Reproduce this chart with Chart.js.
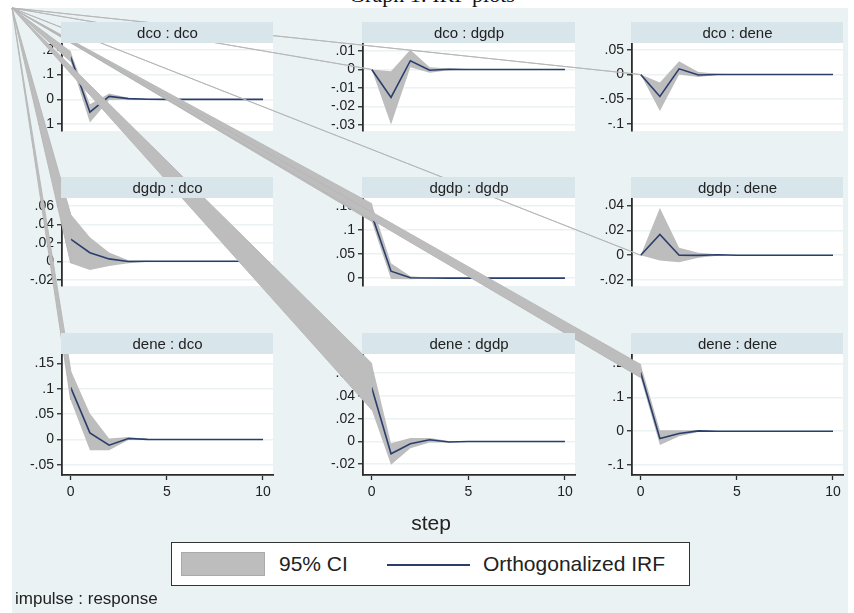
<!DOCTYPE html>
<html>
<head>
<meta charset="utf-8">
<title>Graph 1: IRF plots</title>
<script src="https://cdn.jsdelivr.net/npm/chart.js@4.4.1/dist/chart.umd.min.js"></script>
<style>
  body { margin: 0; background: #fff; }
  #page { position: relative; width: 854px; height: 613px; overflow: hidden;
          font-family: "Liberation Sans", Arial, sans-serif; color: #222; }
  #region { position: absolute; left: 12px; top: 8px; width: 836px; height: 605px; background: #eaf2f3; }
  #page canvas { position: absolute; left: 0; top: 0; }
  #title { position: absolute; left: 0; width: 864px; top: -16px; text-align: center;
           font: 22px/22px "Liberation Serif", "Times New Roman", serif; color: #111; }
  #xtitle { position: absolute; left: 331px; width: 200px; top: 512px; text-align: center;
            font-size: 21px; line-height: 21px; }
  #legend { position: absolute; left: 171px; top: 542px; width: 517px; height: 42px;
            background: #fff; border: 1.5px solid #333; }
  #legend .swatch { position: absolute; left: 9px; top: 9px; width: 82px; height: 22px;
                    background: #bdbdbd; border: 1px solid #aaa; }
  #legend .line { position: absolute; left: 215px; top: 21px; width: 83px; height: 2px; background: #2a3e6e; }
  #legend .lab { position: absolute; top: 10px; font-size: 21px; line-height: 22px; }
  #note { position: absolute; left: 15px; top: 590px; font-size: 17px; line-height: 18px; }
</style>
</head>
<body>
<div id="page">
  <div id="region"></div>
  <div id="title">Graph 1: IRF plots</div>
  <div id="xtitle">step</div>
  <div id="legend">
    <span class="swatch"></span><span class="lab" style="left:107px">95% CI</span>
    <span class="line"></span><span class="lab" style="left:311px">Orthogonalized IRF</span>
  </div>
  <div id="note">impulse : response</div>
</div>
<script>
// horizon steps
const steps = [0, 1, 2, 3, 4, 5, 6, 7, 8, 9, 10];
const xTicks = [0, 5, 10];
const variables = ['dco', 'dgdp', 'dene'];

// impulse dco
const irfDcoDco   = [0.172, -0.052, 0.012, 0.003, 0.0005, 0, 0, 0, 0, 0, 0];
const loDcoDco    = [0.152, -0.094, -0.003, -0.002, -0.001, 0, 0, 0, 0, 0, 0];
const hiDcoDco    = [0.193, -0.020, 0.024, 0.007, 0.002, 0.0005, 0, 0, 0, 0, 0];
const irfDcoDgdp  = [0, -0.0151, 0.0047, -0.0004, 0.0001, 0, 0, 0, 0, 0, 0];
const loDcoDgdp   = [0, -0.0298, 0.0012, -0.0018, -0.0004, -0.0001, 0, 0, 0, 0, 0];
const hiDcoDgdp   = [0, -0.0010, 0.0106, 0.0012, 0.0005, 0.0001, 0, 0, 0, 0, 0];
const irfDcoDene  = [0, -0.0445, 0.0115, -0.001, 0.0002, 0, 0, 0, 0, 0, 0];
const loDcoDene   = [0, -0.074, 0.000, -0.005, -0.001, 0, 0, 0, 0, 0, 0];
const hiDcoDene   = [0, -0.016, 0.027, 0.005, 0.0015, 0.0003, 0, 0, 0, 0, 0];
// impulse dgdp
const irfDgdpDco  = [0.024, 0.0093, 0.0026, -0.0003, 0.0001, 0, 0, 0, 0, 0, 0];
const loDgdpDco   = [-0.002, -0.0093, -0.005, -0.002, -0.0005, 0, 0, 0, 0, 0, 0];
const hiDgdpDco   = [0.051, 0.026, 0.0095, 0.0012, 0.0005, 0, 0, 0, 0, 0, 0];
const irfDgdpDgdp = [0.132, 0.0146, 0.001, 0.0002, 0, 0, 0, 0, 0, 0, 0];
const loDgdpDgdp  = [0.118, -0.0015, -0.002, -0.0005, 0, 0, 0, 0, 0, 0, 0];
const hiDgdpDgdp  = [0.155, 0.031, 0.004, 0.001, 0.0002, 0, 0, 0, 0, 0, 0];
const irfDgdpDene = [0, 0.0167, 0.0000, -0.0002, 0.0003, 0, 0, 0, 0, 0, 0];
const loDgdpDene  = [0, -0.0043, -0.0057, -0.002, -0.0005, 0, 0, 0, 0, 0, 0];
const hiDgdpDene  = [0, 0.038, 0.0059, 0.002, 0.0008, 0.0002, 0, 0, 0, 0, 0];
// impulse dene
const irfDeneDco  = [0.1027, 0.013, -0.0113, 0.002, 0.0003, 0, 0, 0, 0, 0, 0];
const loDeneDco   = [0.0777, -0.021, -0.021, -0.001, -0.0005, 0, 0, 0, 0, 0, 0];
const hiDeneDco   = [0.137, 0.051, 0.002, 0.005, 0.001, 0, 0, 0, 0, 0, 0];
const irfDeneDgdp = [0.0474, -0.0108, -0.002, 0.0015, -0.0005, 0, 0, 0, 0, 0, 0];
const loDeneDgdp  = [0.0278, -0.0205, -0.006, -0.001, -0.001, 0, 0, 0, 0, 0, 0];
const hiDeneDgdp  = [0.0687, -0.0015, 0.003, 0.003, 0.0003, 0, 0, 0, 0, 0, 0];
const irfDeneDene = [0.173, -0.0216, -0.007, 0.001, 0, 0, 0, 0, 0, 0, 0];
const loDeneDene  = [0.158, -0.041, -0.015, -0.002, -0.0005, 0, 0, 0, 0, 0, 0];
const hiDeneDene  = [0.197, 0.003, 0.003, 0.003, 0.0005, 0, 0, 0, 0, 0, 0];

// y axis ticks and ranges, row by row
const yTicksAll = [
  [-0.1, 0, 0.1, 0.2], [-0.03, -0.02, -0.01, 0, 0.01], [-0.1, -0.05, 0, 0.05],
  [-0.02, 0, 0.02, 0.04, 0.06], [0, 0.05, 0.1, 0.15], [-0.02, 0, 0.02, 0.04],
  [-0.05, 0, 0.05, 0.1, 0.15], [-0.02, 0, 0.02, 0.04, 0.06], [-0.1, 0, 0.1, 0.2]
];
const yMinAll = [-0.128, -0.0333, -0.1144, -0.0267, -0.0163, -0.0248, -0.0699, -0.0295, -0.1292];
const yMaxAll = [0.228, 0.0143, 0.0639, 0.0684, 0.1668, 0.046, 0.1683, 0.0769, 0.2277];

const irfAll = [irfDcoDco, irfDcoDgdp, irfDcoDene, irfDgdpDco, irfDgdpDgdp, irfDgdpDene, irfDeneDco, irfDeneDgdp, irfDeneDene];
const loAll  = [loDcoDco, loDcoDgdp, loDcoDene, loDgdpDco, loDgdpDgdp, loDgdpDene, loDeneDco, loDeneDgdp, loDeneDene];
const hiAll  = [hiDcoDco, hiDcoDgdp, hiDcoDene, hiDgdpDco, hiDgdpDgdp, hiDgdpDene, hiDeneDco, hiDeneDgdp, hiDeneDene];

// layout
const W = 854, H = 613;
const colLeft = [62, 363, 632], colRight = [273, 575, 843];
const rowTop = [43, 198, 354], rowBottom = [163, 318, 475];
const Y_AXIS_W = 50, X_AXIS_H = 32, STRIP_H = 21;
const X_MIN = -0.45, X_MAX = 10.52;
const APEX_X = 12, APEX_Y = 8; // top-left corner of the graph region

const CI_COLOR = '#bdbdbd', CI_EDGE = '#b6b6b6', IRF_COLOR = '#2a3e6e';
const AXIS = '#2b2b2b', GRID = '#eaf2f3', TXT = '#222', STRIP = '#d8e5eb';
const FONT = '"Liberation Sans", Arial, sans-serif';

function stataLabel(v) {
  const s = String(Math.round(v * 1000) / 1000);
  return s.replace(/^(-?)0\./, '$1.');
}
const pts = arr => steps.map((s, k) => ({ x: s, y: arr[k] }));

function drawStrip(chart) {
  const { ctx, chartArea: a } = chart;
  const title = chart.options.plugins.panelBackground.title;
  ctx.save();
  ctx.fillStyle = STRIP;
  ctx.fillRect(a.left - 1, a.top - STRIP_H, a.right - a.left + 1, STRIP_H);
  ctx.fillStyle = TXT;
  ctx.font = '15px ' + FONT;
  ctx.textAlign = 'center';
  ctx.textBaseline = 'middle';
  ctx.fillText(title, (a.left + a.right) / 2, a.top - STRIP_H / 2 + 1);
  ctx.restore();
}

const panelBackground = {
  id: 'panelBackground',
  beforeDraw(chart) {
    const { ctx, chartArea: a } = chart;
    ctx.save();
    ctx.fillStyle = '#fff';
    ctx.fillRect(a.left, a.top, a.right - a.left, a.bottom - a.top);
    ctx.restore();
    drawStrip(chart);
  }
};

const charts = [];

// the step-0 CI polygons are joined to the graph corner (as in the source picture);
// they lie over the plot regions but under the panel strips
const cornerBands = {
  id: 'cornerBands',
  afterDraw(chart) {
    const all = charts.includes(chart) ? charts : charts.concat(chart);
    const ctx = chart.ctx;
    ctx.save();
    ctx.fillStyle = CI_COLOR;
    ctx.strokeStyle = CI_EDGE;
    ctx.lineWidth = 0.9;
    all.forEach((c, i) => {
      const px = c.scales.x.getPixelForValue(steps[0]);
      ctx.beginPath();
      ctx.moveTo(APEX_X, APEX_Y);
      ctx.lineTo(px, c.scales.y.getPixelForValue(loAll[i][0]));
      ctx.lineTo(px, c.scales.y.getPixelForValue(hiAll[i][0]));
      ctx.closePath();
      ctx.fill();
      ctx.stroke();
    });
    ctx.restore();
    all.forEach(c => {
      const a = c.chartArea;
      ctx.save();
      ctx.fillStyle = STRIP;
      ctx.fillRect(a.left - 1, a.top - STRIP_H, a.right - a.left + 1, STRIP_H);
      ctx.fillStyle = TXT;
      ctx.font = '15px ' + FONT;
      ctx.textAlign = 'center';
      ctx.textBaseline = 'middle';
      ctx.fillText(c.options.plugins.panelBackground.title, (a.left + a.right) / 2, a.top - STRIP_H / 2 + 1);
      ctx.restore();
    });
  }
};

const page = document.getElementById('page');

for (let i = 0; i < 9; i++) {
  const r = Math.floor(i / 3), c = i % 3;
  const isBottom = r === 2;
  const canvas = document.createElement('canvas');
  canvas.width = W;
  canvas.height = H;
  page.insertBefore(canvas, document.getElementById('xtitle'));

  const chart = new Chart(canvas, {
    type: 'line',
    data: {
      datasets: [
        { data: pts(irfAll[i]), borderColor: IRF_COLOR, borderWidth: 1.6, pointRadius: 0, fill: false, tension: 0 },
        { data: pts(loAll[i]), borderWidth: 0, pointRadius: 0, fill: false },
        { data: pts(hiAll[i]), borderWidth: 0, pointRadius: 0, fill: '-1', backgroundColor: CI_COLOR }
      ]
    },
    options: {
      responsive: false,
      animation: false,
      events: [],
      layout: {
        padding: {
          left: colLeft[c] - Y_AXIS_W,
          right: W - colRight[c],
          top: rowTop[r],
          bottom: H - rowBottom[r] - (isBottom ? X_AXIS_H : 0)
        }
      },
      scales: {
        x: {
          type: 'linear',
          min: X_MIN,
          max: X_MAX,
          display: isBottom,
          afterBuildTicks: s => { s.ticks = xTicks.map(v => ({ value: v })); },
          afterFit: s => { s.height = X_AXIS_H; },
          grid: { drawOnChartArea: false, tickLength: 5, tickColor: AXIS, tickWidth: 1.3 },
          border: { color: AXIS, width: 1.8 },
          ticks: { color: TXT, font: { size: 14, family: FONT }, padding: 4, maxRotation: 0 }
        },
        y: {
          type: 'linear',
          min: yMinAll[i],
          max: yMaxAll[i],
          afterBuildTicks: s => { s.ticks = yTicksAll[i].map(v => ({ value: v })); },
          afterFit: s => { s.width = Y_AXIS_W; },
          grid: { color: GRID, lineWidth: 1.5, tickLength: 5, tickColor: AXIS, tickWidth: 1.3 },
          border: { color: AXIS, width: 1.8 },
          ticks: { color: TXT, font: { size: 14, family: FONT }, padding: 3, callback: v => stataLabel(v) }
        }
      },
      plugins: {
        legend: { display: false },
        tooltip: { enabled: false },
        panelBackground: { title: variables[r] + ' : ' + variables[c] }
      }
    },
    plugins: i === 8 ? [panelBackground, cornerBands] : [panelBackground]
  });
  charts.push(chart);
}
</script>
</body>
</html>
